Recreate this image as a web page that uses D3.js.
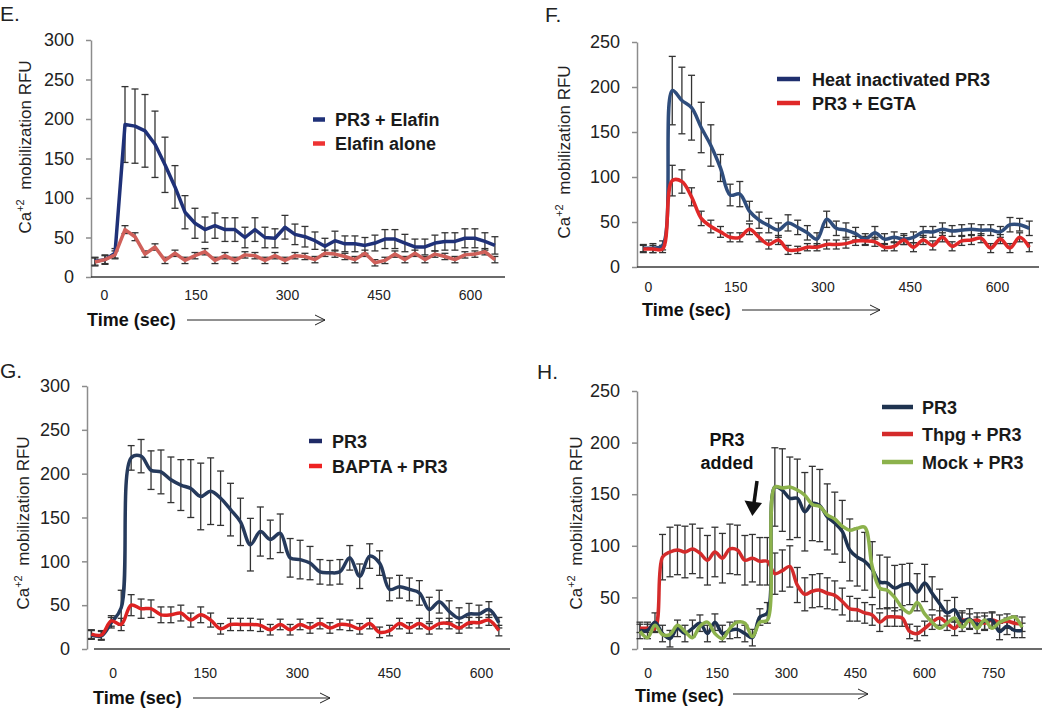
<!DOCTYPE html>
<html><head><meta charset="utf-8">
<script src="https://cdn.jsdelivr.net/npm/d3@7"></script>
<style>body{margin:0;background:#fff}svg{display:block}text{font-family:"Liberation Sans",Arial,sans-serif}</style>
</head><body><svg id="c" width="1050" height="709"></svg>
<script>
// ---------------- DATA ----------------
// Panel E
const eTicksX = [0,150,300,450,600];
const eTicksY = [0,50,100,150,200,250,300];
const eNames = ["PR3 + Elafin","Elafin alone"];
const eBlue = [20,22,30,193,191,185,168,142,114,82,68,60,65,60,60,50,60,50,49,63,54,51,46,39,46,42,42,40,43,48,48,43,38,38,43,45,45,49,49,45,40];
const eBlueErr = [5,6,6,48,47,46,42,35,27,21,19,16,16,15,15,13,15,13,12,15,13,13,11,10,12,10,10,10,10,12,12,11,10,10,10,11,11,12,12,11,11];
const eRed = [19,22,28,60,51,29,38,21,30,21,27,32,21,27,21,28,27,21,27,21,27,26,22,30,29,26,22,30,18,21,29,22,30,22,29,26,22,28,29,32,22];
const eRedErr = [5,5,5,5,5,4,4,4,4,4,4,4,4,4,4,4,4,4,4,4,4,4,4,4,4,4,4,4,4,4,4,4,4,4,4,4,4,4,4,4,4];
// Panel F
const fTicksX = [0,150,300,450,600];
const fTicksY = [0,50,100,150,200,250];
const fNames = ["Heat inactivated PR3","PR3 + EGTA"];
const fBlue = [21,21,24,196,185,177,155,135,110,80,81,62,52,46,41,49,44,38,31,53,43,41,37,31,38,31,33,31,33,39,39,42,40,41,42,41,41,39,47,47,43];
const fBlueErr = [4,5,5,38,37,36,28,23,15,12,14,11,9,8,8,9,8,8,7,9,8,8,7,6,7,6,6,6,6,6,6,7,6,6,6,6,6,6,8,7,8];
const fRed = [20,20,20,96,95,78,54,45,39,33,33,42,33,25,30,19,19,22,22,25,25,26,29,29,28,22,23,30,22,30,24,33,23,29,30,32,21,31,21,33,22];
const fRedErr = [4,4,4,17,13,10,8,7,6,5,5,6,5,5,5,5,4,4,4,5,5,5,5,5,5,4,5,5,5,5,5,5,5,5,5,5,5,5,5,5,5];
// Panel G
const gTicksX = [0,150,300,450,600];
const gTicksY = [0,50,100,150,200,250,300];
const gNames = ["PR3","BAPTA + PR3"];
const gBlue = [16,15,30,47,218,220,204,202,193,187,183,174,180,172,159,145,119,134,125,132,104,102,98,88,87,88,104,83,106,98,68,71,68,64,45,54,43,35,40,40,45,30];
const gBlueErr = [5,5,6,20,14,19,22,25,26,29,33,38,38,31,30,27,30,28,22,22,22,22,19,14,14,14,14,14,14,14,13,13,13,14,14,13,12,12,12,10,9,6];
const gRed = [17,16,32,28,50,46,46,39,39,41,33,39,33,23,28,28,28,27,22,28,22,28,24,29,24,28,27,23,29,19,21,29,24,29,23,29,29,24,30,30,33,21];
const gRedErr = [5,5,6,7,12,11,10,9,9,9,8,9,8,6,7,7,7,7,6,6,6,6,6,6,6,6,6,6,6,6,6,6,6,6,6,6,6,6,6,6,6,6];
// Panel H
const hTicksX = [0,150,300,450,600,750];
const hTicksY = [0,50,100,150,200,250];
const hNames = ["PR3","Thpg + PR3","Mock + PR3"];
const hBlue = [18,18,26,15,10,20,15,20,25,15,26,15,18,19,15,11,31,35,157,154,146,146,133,141,139,128,122,114,96,89,85,77,65,64,59,62,63,55,64,54,44,35,38,27,29,23,27,28,17,22,18,18];
const hBlueErr = [8,8,9,8,8,8,8,8,8,8,8,8,8,8,8,8,8,10,38,40,40,38,38,36,35,32,30,30,30,28,28,27,26,25,22,20,20,18,18,16,14,12,12,10,10,8,8,8,8,8,7,7];
const hRed = [20,20,20,89,94,96,94,97,93,86,94,88,97,96,86,88,85,85,73,76,80,62,53,56,57,54,52,46,39,38,35,33,26,31,31,30,17,15,20,26,30,25,20,28,27,28,25,28,26,27,25,24];
const hRedErr = [4,4,4,22,24,24,25,24,24,24,24,24,24,24,24,23,23,23,20,20,20,17,16,16,16,15,14,13,12,11,10,10,9,9,9,8,7,7,7,7,7,7,7,7,7,7,7,7,7,7,7,7];
const hGreen = [17,11,23,14,14,23,17,11,22,26,15,10,20,26,25,12,26,28,157,156,157,154,149,140,138,130,126,119,115,117,118,80,59,57,50,40,35,45,34,26,20,25,30,21,28,20,28,20,26,29,31,21];

// ---------------- DRAW ----------------
const svg = d3.select("#c");
const FONT = '"Liberation Sans", Arial, sans-serif';

function drawPanel(p) {
  const g = svg.append("g");
  const x = d3.scaleLinear().domain(p.xDomain).range(p.xRange);
  const y = d3.scaleLinear().domain([0, p.yMax]).range([p.yBot, p.yTop]);
  const tx = (i, s) => x(s.t0 + i * s.dt);

  // panel letter
  g.append("text").attr("x", p.letter[0]).attr("y", p.letter[1])
    .attr("font-family", '"Open Sans", sans-serif').attr("font-size", 21).attr("fill", "#222").text(p.name);

  // y axis
  const ya = g.append("g").attr("transform", `translate(${p.axisX},0)`)
    .call(d3.axisLeft(y).tickValues(p.yTicks).tickSize(5).tickSizeOuter(0).tickPadding(12).tickFormat(d3.format("d")));
  ya.select(".domain").attr("stroke", "#8c8c8c").attr("stroke-width", 1.5);
  ya.selectAll(".tick line").attr("stroke", "#8c8c8c").attr("stroke-width", 1.5);
  ya.selectAll(".tick text").attr("font-size", 18).attr("fill", "#222").attr("font-family", FONT);

  // x axis baseline
  g.append("line").attr("x1", p.xLine[0]).attr("x2", p.xLine[1]).attr("y1", y(0)).attr("y2", y(0))
    .attr("stroke", "#3a3a3a").attr("stroke-width", 1.5);
  const xa = g.append("g").attr("transform", `translate(0,${p.xLabelY})`)
    .call(d3.axisBottom(x).tickValues(p.xTicks).tickSize(0).tickFormat(d3.format("d")));
  xa.select(".domain").remove();
  xa.selectAll(".tick text").attr("y", 0).attr("dy", 0).attr("font-size", 14).attr("fill", "#222").attr("font-family", FONT);

  // axis titles
  const yl = g.append("text").attr("transform", `translate(${p.yLabel[0]},${p.yLabel[1]}) rotate(-90)`)
    .attr("text-anchor", "middle").attr("font-size", 17).attr("fill", "#222").attr("font-family", FONT);
  yl.append("tspan").text("Ca");
  yl.append("tspan").attr("dy", -7).attr("font-size", 11).text("+2");
  yl.append("tspan").attr("dy", 7).text("\u00a0 mobilization RFU");

  g.append("text").attr("x", p.title[0]).attr("y", p.title[1]).attr("font-size", 18).attr("font-weight", "bold")
    .attr("fill", "#111").attr("font-family", FONT).text("Time (sec)");
  const [ax1, ax2, ay] = p.arrow;
  g.append("path").attr("d", `M${ax1},${ay}H${ax2}M${ax2 - 10},${ay - 5}L${ax2},${ay}L${ax2 - 10},${ay + 5}`)
    .attr("fill", "none").attr("stroke", "#222").attr("stroke-width", 1);

  // series
  p.series.forEach(s => {
    if (!s.err) return;
    const eb = g.append("g").attr("stroke", "#333").attr("stroke-width", 1.3);
    s.vals.forEach((v, i) => {
      const cx = tx(i, p), y1 = y(v - s.err[i]), y2 = y(v + s.err[i]);
      eb.append("line").attr("x1", cx).attr("x2", cx).attr("y1", y1).attr("y2", y2);
      eb.append("line").attr("x1", cx - 3.5).attr("x2", cx + 3.5).attr("y1", y1).attr("y2", y1);
      eb.append("line").attr("x1", cx - 3.5).attr("x2", cx + 3.5).attr("y1", y2).attr("y2", y2);
    });
  });
  p.series.forEach(s => {
    const line = d3.line().x((d, i) => tx(i, p)).y(d => y(d)).curve(p.curve);
    g.append("path").datum(s.vals).attr("d", line).attr("fill", "none")
      .attr("stroke", s.color).attr("stroke-width", p.lw).attr("stroke-linejoin", "round");
  });

  // legend
  const L = p.legend;
  p.series.forEach((s, k) => {
    g.append("line").attr("x1", L.x1).attr("x2", L.x2).attr("y1", L.ys[k]).attr("y2", L.ys[k])
      .attr("stroke", s.lcolor || s.color).attr("stroke-width", 4.5);
    g.append("text").attr("x", L.tx).attr("y", L.ys[k] + 6.5).attr("font-size", 18).attr("font-weight", "bold")
      .attr("fill", "#1a1a1a").attr("font-family", FONT).text(s.name);
  });
  return {x, y, g};
}

drawPanel({
  name: "E.", letter: [0, 21], axisX: 91, yTop: 40, yBot: 277, yMax: 300, yTicks: eTicksY,
  xDomain: [0, 600], xRange: [104, 470], xTicks: eTicksX, xLine: [91, 505], xLabelY: 300,
  yLabel: [31, 147], title: [87, 326], arrow: [187, 325, 320], t0: -14.75, dt: 16.39,
  curve: d3.curveLinear, lw: 3.5,
  series: [
    {name: eNames[0], vals: eBlue, err: eBlueErr, color: "#1f3178"},
    {name: eNames[1], vals: eRed, err: eRedErr, color: "#d0605a", lcolor: "#ee3333"}
  ],
  legend: {x1: 313, x2: 325, tx: 335, ys: [119.5, 143.5]}
});

drawPanel({
  name: "F.", letter: [545, 22], axisX: 637, yTop: 42, yBot: 267, yMax: 250, yTicks: fTicksY,
  xDomain: [0, 600], xRange: [648, 997], xTicks: fTicksX, xLine: [637, 1039], xLabelY: 292,
  yLabel: [570, 152], title: [642, 316], arrow: [742, 880, 310], t0: -8.08, dt: 16.59,
  curve: d3.curveCatmullRom, lw: 3.5,
  series: [
    {name: fNames[0], vals: fBlue, err: fBlueErr, color: "#2f4d7c", lcolor: "#1f2f6e"},
    {name: fNames[1], vals: fRed, err: fRedErr, color: "#e02828"}
  ],
  legend: {x1: 777, x2: 800, tx: 812, ys: [79, 103]}
});

drawPanel({
  name: "G.", letter: [0, 378], axisX: 87, yTop: 386, yBot: 649, yMax: 300, yTicks: gTicksY,
  xDomain: [0, 600], xRange: [112.7, 481], xTicks: gTicksX, xLine: [94, 510], xLabelY: 678,
  yLabel: [29, 523], title: [93, 704], arrow: [193, 330, 698], t0: -34.7, dt: 16.19,
  curve: d3.curveCatmullRom, lw: 3.5,
  series: [
    {name: gNames[0], vals: gBlue, err: gBlueErr, color: "#263a5c", lcolor: "#1f2a66"},
    {name: gNames[1], vals: gRed, err: gRedErr, color: "#dd2222", lcolor: "#ee2222"}
  ],
  legend: {x1: 309, x2: 322, tx: 332, ys: [441, 466]}
});

const H = drawPanel({
  name: "H.", letter: [537, 379], axisX: 637, yTop: 391, yBot: 649, yMax: 250, yTicks: hTicksY,
  xDomain: [0, 750], xRange: [647.7, 993], xTicks: hTicksX, xLine: [643, 1042], xLabelY: 678,
  yLabel: [582, 523], title: [635, 702], arrow: [733, 868, 694], t0: -16.7, dt: 16.27,
  curve: d3.curveCatmullRom, lw: 3.5,
  series: [
    {name: hNames[1], vals: hRed, err: hRedErr, color: "#d42b2b"},
    {name: hNames[0], vals: hBlue, err: hBlueErr, color: "#1f3350"},
    {name: hNames[2], vals: hGreen, err: null, color: "#8cb24c"}
  ],
  legend: {x1: 882, x2: 913, tx: 922, ys: [434, 407, 462]}
});

// "PR3 added" annotation
H.g.append("text").attr("x", 727).attr("y", 446).attr("text-anchor", "middle").attr("font-size", 18)
  .attr("font-weight", "bold").attr("fill", "#111").attr("font-family", FONT).text("PR3");
H.g.append("text").attr("x", 727).attr("y", 469).attr("text-anchor", "middle").attr("font-size", 18)
  .attr("font-weight", "bold").attr("fill", "#111").attr("font-family", FONT).text("added");
H.g.append("line").attr("x1", 757).attr("y1", 481).attr("x2", 754).attr("y2", 503)
  .attr("stroke", "#111").attr("stroke-width", 3.5);
H.g.append("path").attr("d", "M744.5,500.5L762,503L752.3,516Z").attr("fill", "#111");
</script></body></html>
